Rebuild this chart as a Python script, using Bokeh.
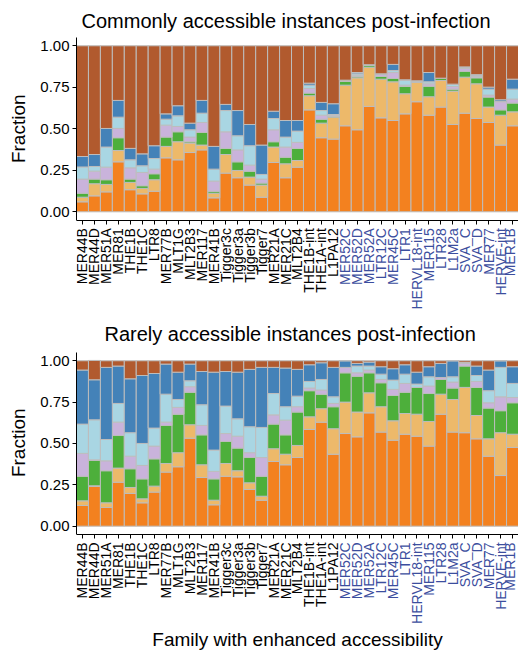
import math
from bokeh.plotting import figure
from bokeh.layouts import column
from bokeh.models import (ColumnDataSource, FixedTicker, NumeralTickFormatter,
                          Range1d, LinearAxis, Title)
from bokeh.embed import file_html
from bokeh.resources import INLINE

# ---------------- data ----------------
families = ["MER44B", "MER44D", "MER51A", "MER81", "THE1B", "THE1C", "LTR8", "MER77B",
            "MLT1G", "MLT2B3", "MER117", "MER41B", "Tigger3c", "Tigger3a", "Tigger3b",
            "Tigger7", "MER21A", "MER21C", "MLT2B4", "THE1B-int", "THE1A-int", "L1PA12",
            "MER52C", "MER52D", "MER52A", "LTR12C", "MER45C", "LTR1", "HERVL18-int",
            "MER115", "LTR28", "L1M2a", "SVA_C", "SVA_D", "MER77", "HERVE-int", "MER1B"]
highlighted = [False] * 22 + [True] * 15

layer_names = ["orange", "light_orange", "green", "lilac", "light_blue", "blue", "brown"]
layer_colors = ["#F3811F", "#EDB96A", "#4DAF3B", "#C9B3DB", "#A9D6E3", "#4482B8", "#B15A2E"]

# Commonly accessible instances post-infection
common_orange = [.060, .096, .120, .301, .133, .108, .124, .325, .313, .357, .373, .084, .233, .205, .161, .088, .297, .205, .269, .614, .446, .438, .518, .494, .635, .566, .550, .590, .663, .582, .631, .526, .594, .562, .538, .402, .518]
common_light_orange = [.028, .073, .045, .068, .044, .033, .069, .069, .109, .057, .029, .028, .112, .044, .048, .073, .093, .084, .040, .085, .088, .132, .245, .313, .236, .233, .233, .121, .116, .111, .160, .201, .217, .209, .093, .180, .084]
common_green = [.024, .028, .028, .077, .020, .016, .036, .056, .060, .008, .076, .012, .037, .052, .036, .012, .032, .040, .073, .016, .024, .004, .024, .008, .013, .016, .020, .044, .008, .064, .012, .012, .036, .036, .060, .032, .053]
common_lilac = [.085, .048, .076, .056, .068, .080, .028, .072, .032, .028, .060, .061, .100, .072, .036, .024, .072, .061, .036, .028, .024, .008, .002, .008, .001, .012, .036, .008, .001, .014, .001, .016, .016, .008, .012, .049, .024]
common_light_blue = [.073, .028, .121, .068, .048, .040, .064, .036, .064, .044, .056, .072, .128, .085, .117, .028, .068, .060, .068, .020, .028, .004, .002, .008, .001, .002, .012, .028, .001, .012, .001, .012, .008, .008, .036, .002, .060]
common_blue = [.063, .072, .112, .101, .069, .072, .077, .032, .061, .040, .077, .137, .037, .152, .128, .177, .044, .100, .064, .012, .049, .065, .002, .008, .000, .002, .037, .004, .000, .056, .000, .002, .002, .003, .012, .010, .060]
common_brown = [.667, .655, .498, .329, .618, .651, .602, .410, .361, .466, .329, .606, .353, .390, .474, .598, .394, .450, .450, .225, .341, .349, .207, .161, .114, .169, .112, .205, .211, .161, .195, .231, .127, .174, .249, .325, .201]

# Rarely accessible instances post-infection
rare_orange = [.125, .240, .113, .266, .198, .141, .206, .327, .359, .532, .294, .129, .302, .298, .222, .157, .391, .371, .415, .585, .629, .435, .560, .540, .685, .569, .520, .556, .544, .484, .677, .569, .565, .528, .423, .306, .476]
rare_light_orange = [.028, .004, .028, .085, .036, .024, .036, .052, .085, .081, .077, .028, .077, .037, .040, .024, .077, .064, .073, .076, .081, .154, .190, .150, .121, .153, .117, .125, .133, .149, .121, .197, .274, .141, .105, .259, .080]
rare_green = [.149, .153, .194, .197, .113, .121, .165, .230, .233, .197, .181, .129, .133, .137, .153, .121, .149, .117, .202, .158, .088, .133, .177, .217, .121, .145, .153, .129, .162, .169, .089, .069, .129, .170, .186, .133, .190]
rare_lilac = [.138, .004, .060, .081, .076, .081, .077, .020, .041, .033, .057, .045, .048, .072, .029, .113, .056, .089, .032, .016, .025, .020, .033, .020, .017, .020, .037, .053, .000, .045, .012, .036, .016, .036, .032, .084, .032]
rare_light_blue = [.177, .242, .129, .113, .142, .133, .109, .169, .048, .036, .125, .129, .166, .105, .157, .182, .129, .081, .064, .040, .064, .040, .000, .041, .024, .032, .056, .056, .020, .056, .000, .032, .004, .036, .073, .178, .085]
rare_blue = [.327, .242, .436, .226, .326, .411, .330, .182, .165, .101, .201, .471, .209, .282, .347, .363, .158, .234, .162, .101, .101, .178, .040, .016, .024, .045, .069, .057, .072, .061, .085, .097, .002, .057, .125, .040, .101]
rare_brown = [.056, .117, .040, .032, .109, .089, .077, .020, .069, .020, .065, .069, .065, .069, .052, .040, .040, .044, .052, .024, .012, .040, .000, .016, .008, .036, .048, .024, .069, .036, .016, .000, .010, .032, .056, .000, .036]

y_ticks = [0, 0.25, 0.5, 0.75, 1.0]

common_layers = [common_orange, common_light_orange, common_green, common_lilac,
                 common_light_blue, common_blue, common_brown]
rare_layers = [rare_orange, rare_light_orange, rare_green, rare_lilac,
               rare_light_blue, rare_blue, rare_brown]

# ---------------- styling / layout ----------------
FONT = "Liberation Sans"
BLUE_LABEL = "#3C4E9E"
TICK_OUT = 4
Y_START, Y_END = -0.05, 1.05      # visible value-axis extent
PX_PER_UNIT = 166.0               # vertical pixels for a fraction of 1.0
AXIS_TITLE_SIZE = 19.0
YLABEL_HALF_LEN = 0.5 * 3.61 * AXIS_TITLE_SIZE   # half of the "Fraction" text length
n = len(families)


def style_axis(ax, standoff=4):
    ax.axis_line_color = "black"
    ax.axis_line_width = 1
    ax.major_tick_line_color = "black"
    ax.major_tick_out = TICK_OUT
    ax.major_tick_in = 0
    ax.minor_tick_line_color = None
    ax.major_label_standoff = standoff
    ax.major_label_text_color = "black"
    ax.major_label_text_font = FONT
    ax.axis_label_text_font = FONT
    ax.axis_label_text_font_style = "normal"
    ax.axis_label_text_color = "black"
    ax.axis_label_text_font_size = f"{AXIS_TITLE_SIZE}px"


def make_panel(title, layers, height, border_top, title_standoff, title_offset,
               border_bottom=0, xlabel=None):
    data = {"x": list(range(n))}
    for name, vals in zip(layer_names, layers):
        data[name] = vals
    src = ColumnDataSource(data)

    # the frame reaches down over the tick-label area, so the x-axes drawn
    # at the fixed location Y_START keep their tick labels inside the frame
    frame_h = height - border_top - border_bottom
    y_low = Y_END - frame_h / PX_PER_UNIT

    p = figure(width=518, height=height,
               x_range=Range1d(-0.5, n - 0.5), y_range=Range1d(y_low, Y_END),
               output_backend="svg", toolbar_location=None,
               min_border_left=74, min_border_right=0,
               min_border_top=border_top, min_border_bottom=border_bottom)
    p.title = Title(text=title, align="left", offset=title_offset,
                    text_font=FONT, text_font_size="20px", text_font_style="normal",
                    text_color="black", standoff=title_standoff)

    p.vbar_stack(layer_names, x="x", width=1.0, source=src,
                 fill_color=layer_colors, line_color="#BDBDBD", line_width=1)

    p.grid.visible = False
    p.outline_line_color = None
    p.background_fill_color = "white"
    p.border_fill_color = "white"

    yax = p.yaxis[0]
    style_axis(yax, standoff=3)
    yax.bounds = (Y_START, Y_END)
    yax.ticker = FixedTicker(ticks=y_ticks)
    yax.formatter = NumeralTickFormatter(format="0.00")
    yax.major_label_text_font_size = "15px"

    # y-axis title, centred on the visible 0..1 part of the axis
    center_from_bottom = frame_h - (Y_END - 0.5) * PX_PER_UNIT
    p.add_layout(Title(text="Fraction", align="left", vertical_align="top",
                       offset=center_from_bottom - YLABEL_HALF_LEN,
                       text_font=FONT, text_font_size=f"{AXIS_TITLE_SIZE}px",
                       text_font_style="normal", text_color="black", standoff=14), "left")

    # main x axis: all ticks, labels for the non-highlighted families
    xax = p.xaxis[0]
    style_axis(xax)
    xax.fixed_location = Y_START
    xax.ticker = FixedTicker(ticks=list(range(n)))
    xax.major_label_overrides = {i: ("" if hl else fam)
                                 for i, (fam, hl) in enumerate(zip(families, highlighted))}
    xax.major_label_orientation = math.pi / 2
    xax.major_label_text_font_size = "14px"

    # overlay axis at the same spot carrying the highlighted (blue) family labels
    hx = [i for i, hl in enumerate(highlighted) if hl]
    bax = LinearAxis(fixed_location=Y_START, ticker=FixedTicker(ticks=hx))
    style_axis(bax)
    bax.axis_line_color = None
    bax.major_tick_line_color = None
    bax.major_label_overrides = {i: families[i] for i in hx}
    bax.major_label_orientation = math.pi / 2
    bax.major_label_text_font_size = "14px"
    bax.major_label_text_color = BLUE_LABEL
    p.add_layout(bax, "below")

    if xlabel:
        p.add_layout(Title(text=xlabel, align="center", vertical_align="bottom",
                           text_font=FONT, text_font_size=f"{AXIS_TITLE_SIZE}px",
                           text_font_style="normal", text_color="black",
                           standoff=4), "below")
    return p


p1 = make_panel("Commonly accessible instances post-infection", common_layers,
                height=312, border_top=37, title_standoff=12, title_offset=5)
p2 = make_panel("Rarely accessible instances post-infection", rare_layers,
                height=339, border_top=40, title_standoff=16, title_offset=28,
                border_bottom=26, xlabel="Family with enhanced accessibility")

layout = column(p1, p2, spacing=0)
open("out.html", "w").write(file_html(layout, INLINE))
